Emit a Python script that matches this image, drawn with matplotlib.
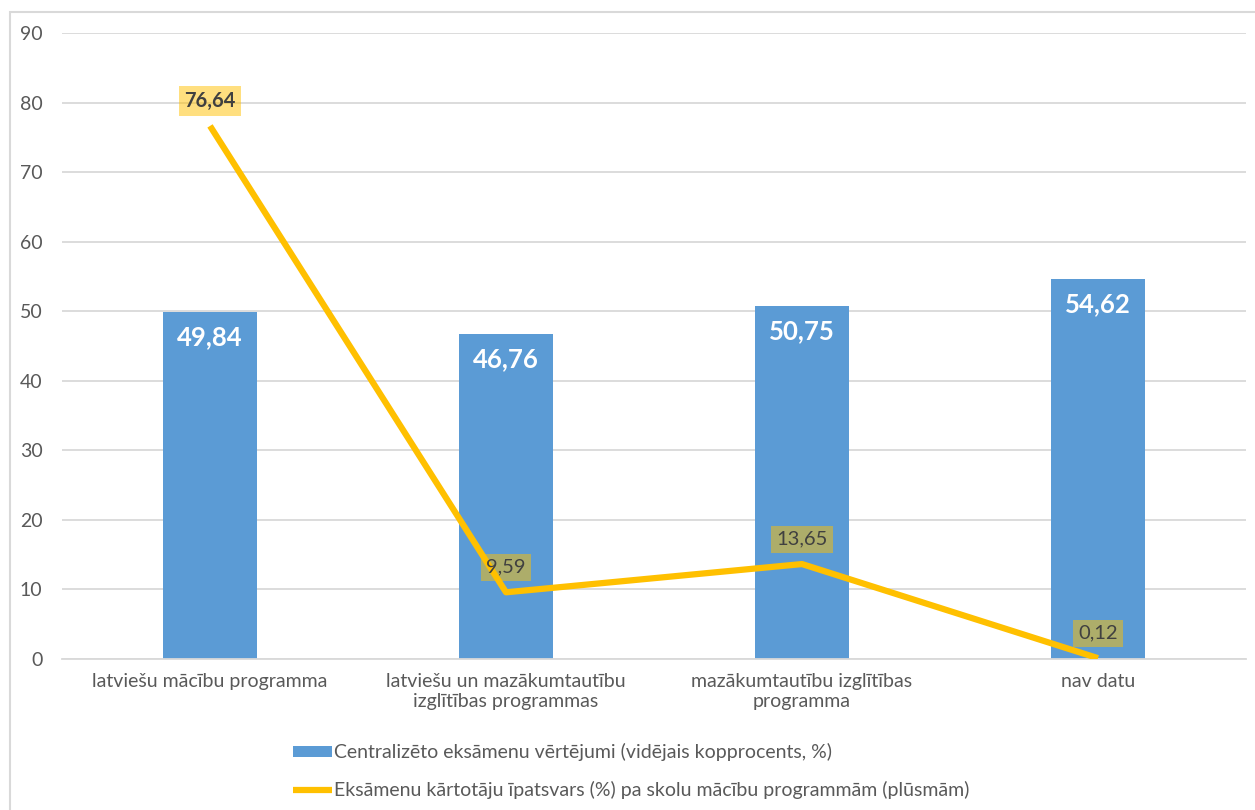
import matplotlib.pyplot as plt
from matplotlib.patches import Rectangle
import numpy as np

plt.rcParams['font.family'] = ['Lato', 'DejaVu Sans']

# data
categories = ['latviešu mācību programma',
              'latviešu un mazākumtautību\nizglītības programmas',
              'mazākumtautību izglītības\nprogramma',
              'nav datu']
exam_scores = [49.84, 46.76, 50.75, 54.62]
share_pct = [76.64, 9.59, 13.65, 0.12]
bar_label = 'Centralizēto eksāmenu vērtējumi (vidējais kopprocents, %)'
line_label = 'Eksāmenu kārtotāju īpatsvars (%) pa skolu mācību programmām (plūsmām)'

blue = '#5B9BD5'
gold = '#FFC000'
grey_txt = '#595959'

fig = plt.figure(figsize=(12.55, 8.10), dpi=100)
# outer chart frame (cut off on right and bottom like the reference)
fig.patches.append(Rectangle((10 / 1255, -0.1), 1.2, (810 - 12) / 810 + 0.1,
                             transform=fig.transFigure, fill=False,
                             edgecolor='#D9D9D9', lw=1.5))

ax = fig.add_axes([62 / 1255, (810 - 659) / 810, (1246 - 62) / 1255, (659 - 33) / 810])
x = np.arange(len(categories))

bars = ax.bar(x, exam_scores, width=0.315, color=blue, zorder=2)
line, = ax.plot(x, share_pct, color=gold, lw=4.5, zorder=3,
                solid_capstyle='butt')

for xi, v in zip(x, exam_scores):
    ax.annotate(f'{v:.2f}'.replace('.', ','), (xi, v), xytext=(0, -18),
                textcoords='offset points', ha='center', va='center',
                color='white', fontsize=18.5, fontweight='bold', zorder=4)

for i, (xi, v) in enumerate(zip(x, share_pct)):
    ax.annotate(f'{v:.2f}'.replace('.', ','), (xi, v), xytext=(0, 18),
                textcoords='offset points', ha='center', va='center',
                color='#404040', fontsize=14.5,
                fontweight='bold' if i == 0 else 'normal', zorder=5,
                bbox=dict(boxstyle='square,pad=0.25', fc=gold, ec='none', alpha=0.5))

ax.set_xlim(-0.5, 3.5)
ax.set_ylim(0, 90)
ax.set_yticks(range(0, 91, 10))
ax.set_xticks(x)
ax.set_xticklabels(categories)
ax.tick_params(axis='both', length=0, labelsize=14, colors=grey_txt)
ax.tick_params(axis='x', pad=10)
ax.tick_params(axis='y', pad=14)
ax.yaxis.grid(True, color='#D9D9D9', lw=1.3, zorder=0)
ax.set_axisbelow(True)
for s in ['top', 'right', 'left']:
    ax.spines[s].set_visible(False)
ax.spines['bottom'].set_color('#D9D9D9')
ax.spines['bottom'].set_linewidth(1.3)

fig.legend([bars, line], [bar_label, line_label], loc='center',
           bbox_to_anchor=(0.503, (810 - 771) / 810), ncol=1,
           frameon=False, fontsize=14, labelcolor=grey_txt,
           handlelength=2.0, handleheight=0.5, handletextpad=0.15,
           labelspacing=1.0)

fig.savefig('out.png', dpi=100)
